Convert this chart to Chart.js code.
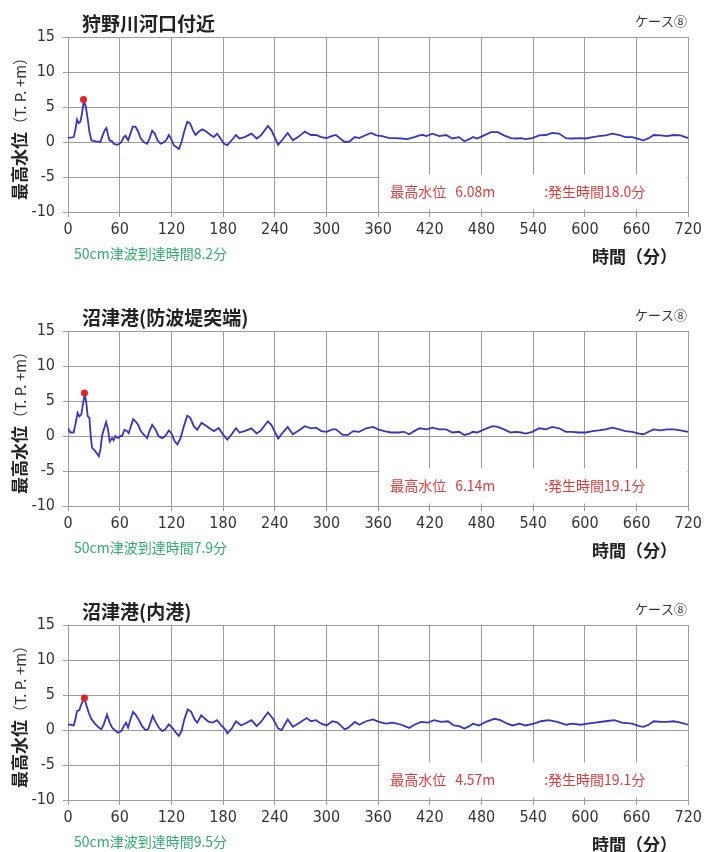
<!DOCTYPE html>
<html lang="ja">
<head>
<meta charset="utf-8">
<script src="https://cdn.jsdelivr.net/npm/chart.js@4.4.1/dist/chart.umd.min.js"></script>
<style>
  body { margin: 0; width: 705px; height: 852px; overflow: hidden; background: #fff; }
  .panel { position: absolute; left: 0; width: 705px; height: 294px; }
</style>
</head>
<body>
<div class="panel" style="top:0"><canvas id="c1" width="705" height="294"></canvas></div>
<div class="panel" style="top:294px"><canvas id="c2" width="705" height="294"></canvas></div>
<div class="panel" style="top:588px"><canvas id="c3" width="705" height="294"></canvas></div>
<script>
// 観測点
const stations = ["狩野川河口付近", "沼津港(防波堤突端)", "沼津港(内港)"];
const caseLabel = "ケース⑧";

// 最高水位と発生時間、50cm津波到達時間
const peakTime = [18.0, 19.1, 19.1];
const peakLevel = [6.08, 6.14, 4.57];
const arrivalTime = [8.2, 7.9, 9.5];

// 軸
const xTicks = [0, 60, 120, 180, 240, 300, 360, 420, 480, 540, 600, 660, 720];
const yTicks = [-10, -5, 0, 5, 10, 15];

// 水位の時系列 [時間(分), 水位(T.P.+m)]
const kanoSeries = [
  [0,0.6],[4.7,0.65],[6.6,0.7],[8.5,1.7],[10.5,3.2],[12.4,2.7],[14.3,2.9],[16.3,4.1],[18.5,5.9],[20.9,4.9],
  [23.3,2.9],[24.8,1.5],[27.1,0.25],[31.8,0.1],[37.6,0],[39.5,0.7],[42.6,1.7],[44.6,2.0],[46.5,1.0],[48.1,0.25],
  [51.2,0.1],[53.1,-0.25],[57,-0.4],[59.7,-0.25],[62,0],[64.7,0.7],[66.7,0.9],[69.8,0.25],[72.5,1.2],[75.2,2.2],
  [78.3,2.2],[81.4,1.5],[84.5,0.5],[88,0],[91.9,-0.25],[94.6,0.5],[97.7,1.6],[100.8,1.2],[103.9,0.25],[107.4,-0.25],
  [110.5,-0.1],[114,0.25],[117,1.0],[120,0.4],[123,-0.5],[125.6,-0.7],[128.7,-1.0],[131.8,0],[134.9,1.5],[138.4,2.9],
  [141.5,2.7],[145,1.7],[148,1.0],[152,1.5],[155.8,1.8],[160.5,1.5],[165.5,1.0],[169.4,0.7],[173,1.2],[177,0.5],
  [181,-0.25],[185,-0.45],[190,0.25],[195,1.0],[199,0.5],[205,0.7],[213,1.2],[219,0.5],[224,0.95],[232,2.3],
  [236,1.7],[244,-0.4],[250,0.5],[255,1.3],[261,0.25],[267,0.7],[275,1.5],[282,1.0],[288,1.0],[294,0.7],
  [300,0.55],[306,0.85],[311,1.0],[321,0],[327,0.1],[333,0.7],[338,0.55],[346,1.0],[352,1.3],[358,0.95],
  [365,0.85],[373,0.55],[379,0.55],[387,0.5],[394,0.4],[402,0.7],[408,0.95],[412,1.0],[416,0.85],[423,1.2],
  [431,0.85],[439,1.0],[446,0.5],[454,0.7],[460,0.1],[466,0.4],[470,0.7],[475,0.5],[483,0.95],[491,1.4],
  [499,1.4],[506,0.95],[514,0.55],[520,0.5],[526,0.55],[531,0.4],[539,0.55],[547,0.95],[555,1.0],[562,1.3],
  [570,1.2],[578,0.55],[585,0.5],[593,0.55],[601,0.5],[609,0.7],[616,0.85],[624,0.95],[632,1.2],[640,1.0],
  [647,0.7],[655,0.7],[663,0.4],[668,0.25],[674,0.55],[680,1.0],[688,0.95],[695,0.85],[703,1.0],[711,0.95],
  [720,0.55]
];

const bohaSeries = [
  [0,1.1],[2.7,0.5],[6.6,0.5],[9.3,2.1],[11.2,3.3],[13.2,2.8],[15.5,3.1],[17,4.3],[19.3,5.9],[21,5.0],
  [22.9,2.8],[24.8,2.6],[26.4,0],[27.9,-1.7],[29.8,-1.9],[31.8,-2.2],[33.7,-2.5],[35.7,-2.9],[37.6,-2.0],[39.5,0],
  [41.5,0.9],[44.2,2.0],[46.5,0.9],[48.4,-0.8],[51.2,-0.3],[53,-0.6],[55,0],[58,-0.3],[60.9,0],[62.8,0],
  [65.5,0.9],[68.6,0.7],[70.5,0.4],[73,1.4],[75.6,2.4],[78.3,2.1],[81.4,1.6],[84.5,0.7],[88,0.2],[91.9,-0.3],
  [94.6,0.7],[97.7,1.6],[101.6,0.9],[105,0],[109.3,-0.3],[113,0],[117,0.8],[120,0.4],[124,-0.8],[127,-1.2],
  [130.6,-0.3],[134.5,1.4],[138.4,2.9],[142,2.6],[146,1.4],[150,0.9],[155,1.9],[159.7,1.5],[165.5,1.0],[169.4,0.7],
  [175,1.15],[180,0.2],[185,-0.5],[190,0.25],[195,1.1],[199,0.5],[205,0.7],[213,1.1],[219,0.35],[224,0.8],
  [232,2.1],[236,1.6],[244,-0.35],[250,0.6],[255,1.3],[261,0.25],[267,0.7],[275,1.4],[282,1.1],[288,1.2],
  [294,0.7],[300,0.6],[307,0.95],[311,0.95],[319,0.15],[325,0.15],[331,0.7],[338,0.6],[346,1.1],[354,1.3],
  [360,0.95],[367,0.7],[375,0.5],[383,0.5],[390,0.6],[396,0.25],[402,0.7],[408,1.1],[416,0.95],[423,1.2],
  [431,0.95],[439,0.95],[446,0.5],[454,0.6],[460,0.15],[466,0.35],[470,0.6],[475,0.5],[483,0.95],[493,1.4],
  [499,1.3],[506,0.95],[514,0.5],[520,0.6],[526,0.5],[531,0.35],[539,0.6],[547,1.1],[555,0.95],[562,1.3],
  [570,1.1],[578,0.6],[585,0.6],[593,0.5],[601,0.5],[609,0.7],[616,0.8],[624,0.95],[632,1.2],[640,0.95],
  [647,0.7],[655,0.6],[663,0.35],[668,0.25],[674,0.6],[680,0.95],[688,0.8],[695,0.95],[703,0.95],[711,0.8],
  [720,0.6]
];

const naikoSeries = [
  [0,0.8],[6.6,0.65],[8.5,1.5],[10.5,2.7],[13.2,2.85],[14.7,3.4],[17,4.1],[19.1,4.4],[20.9,3.7],[24,2.5],
  [27,1.6],[31,0.95],[35.7,0.35],[38.8,0.1],[41.5,0.8],[45.3,2.2],[48.4,1.05],[51.2,0.35],[54,0],[58,-0.4],
  [62,-0.15],[64.7,0.55],[67.4,1.05],[69.8,0.35],[72.5,1.5],[75.6,2.6],[79,2.1],[82,1.5],[86,0.55],[90,0],
  [93,0.1],[95.7,1.05],[98.4,2.0],[101.6,1.15],[105.4,0.35],[109.3,-0.15],[113,0.1],[117,0.8],[121,0.35],[124.8,-0.3],
  [128.7,-0.85],[131.8,-0.15],[135,1.5],[139,2.95],[143,2.6],[147,1.5],[150,1.05],[154.7,2.1],[159,1.6],[163.6,1.15],
  [168,1.05],[173,1.4],[178,0.65],[183,0],[185,-0.5],[190,0.2],[195,1.25],[201,0.65],[205,0.9],[213,1.4],
  [219,0.55],[224,1.15],[232,2.5],[238,1.6],[244,0.2],[248,0],[255,1.5],[261,0.45],[267,0.9],[277,1.7],
  [282,1.25],[288,1.4],[294,0.9],[300,0.65],[307,1.25],[313,1.05],[321,0.1],[325,0.3],[333,1.15],[338,0.75],
  [346,1.25],[354,1.5],[361,1.15],[369,0.9],[377,1.05],[387,0.75],[396,0.3],[402,0.75],[410,1.15],[418,1.05],
  [425,1.4],[433,1.15],[441,1.25],[448,0.65],[454,0.55],[460,0.2],[466,0.55],[470,0.9],[477,0.65],[485,1.15],
  [495,1.6],[502,1.4],[510,0.9],[516,0.65],[524,0.9],[531,0.65],[541,0.9],[549,1.25],[558,1.4],[568,1.15],
  [578,0.75],[585,0.9],[595,0.75],[603,0.9],[612,1.05],[624,1.25],[634,1.4],[643,1.05],[655,0.9],[663,0.55],
  [668,0.45],[674,0.75],[680,1.25],[688,1.15],[695,1.15],[703,1.25],[711,1.05],[720,0.75]
];

const seriesList = [kanoSeries, bohaSeries, naikoSeries];

const JP = '"Noto Sans CJK JP", sans-serif';
const NUM = '"Liberation Sans Narrow", "DejaVu Sans Condensed", sans-serif';

// 文字の描画（タイトル、軸ラベル、注記）
const labelsPlugin = {
  id: "labels",
  beforeDatasetsDraw(chart, args, opts) {
    const { ctx, chartArea } = chart;
    const xs = chart.scales.x, ys = chart.scales.y;
    // 右下の注記ボックス（グリッドを隠す）
    const bx = xs.getPixelForValue(360) + 1.5;
    const by = ys.getPixelForValue(-5) - 2.5;
    ctx.save();
    ctx.fillStyle = "#fff";
    ctx.fillRect(bx, by, chartArea.right - 1 - bx, ys.getPixelForValue(-10) - 2.5 - by);
    ctx.fillStyle = "#e23a3a";
    ctx.font = "14px " + JP;
    ctx.textBaseline = "middle";
    ctx.textAlign = "left";
    const ty = ys.getPixelForValue(-7.1);
    ctx.fillText("最高水位", xs.getPixelForValue(360) + 12, ty);
    ctx.fillText(opts.peakLevel.toFixed(2) + "m", xs.getPixelForValue(360) + 77, ty);
    ctx.fillText(":発生時間" + opts.peakTime.toFixed(1) + "分", xs.getPixelForValue(540) + 11, ty);
    ctx.restore();
  },
  afterDraw(chart, args, opts) {
    const { ctx, chartArea } = chart;
    ctx.save();
    ctx.textBaseline = "middle";
    // タイトル
    ctx.fillStyle = "#222";
    ctx.font = "bold 19px " + JP;
    ctx.textAlign = "left";
    ctx.fillText(opts.title, 82, 24);
    // ケース
    ctx.font = "13px " + JP;
    ctx.fillStyle = "#333";
    ctx.textAlign = "right";
    ctx.fillText(caseLabel, 687, 21);
    // 横軸タイトル
    ctx.font = "bold 17px " + JP;
    ctx.fillStyle = "#222";
    ctx.fillText("時間（分）", 677, chartArea.bottom + 45);
    // 50cm到達時間
    ctx.font = "14px " + JP;
    ctx.fillStyle = "#2fae6e";
    ctx.textAlign = "left";
    ctx.fillText("50cm津波到達時間" + opts.arrival.toFixed(1) + "分", chartArea.left + 6, chartArea.bottom + 42);
    // 縦軸タイトル
    ctx.translate(20, 200);
    ctx.rotate(-Math.PI / 2);
    ctx.fillStyle = "#222";
    ctx.font = "bold 17px " + JP;
    ctx.fillText("最高水位", 0, 0);
    const w = ctx.measureText("最高水位").width;
    ctx.font = "15px " + JP;
    ctx.fillStyle = "#333";
    ctx.fillText("（T. P. +m）", w, 0);
    ctx.restore();
  }
};

function makeChart(id, i) {
  const ctx = document.getElementById(id).getContext("2d");
  return new Chart(ctx, {
    type: "line",
    data: {
      datasets: [
        {
          data: seriesList[i].map(p => ({ x: p[0], y: p[1] })),
          borderColor: "#3535c2",
          borderWidth: 1.8,
          pointRadius: 0,
          tension: 0,
          order: 2
        },
        {
          data: [{ x: peakTime[i], y: peakLevel[i] }],
          showLine: false,
          pointRadius: 3.5,
          pointBackgroundColor: "#e82020",
          pointBorderWidth: 0,
          order: 1
        }
      ]
    },
    options: {
      responsive: false,
      animation: false,
      devicePixelRatio: 1,
      layout: { padding: { top: 37, right: 16, left: 0, bottom: 0 } },
      plugins: {
        legend: { display: false },
        tooltip: { enabled: false },
        labels: {
          title: stations[i],
          peakTime: peakTime[i],
          peakLevel: peakLevel[i],
          arrival: arrivalTime[i]
        }
      },
      scales: {
        x: {
          type: "linear",
          min: xTicks[0],
          max: xTicks[xTicks.length - 1],
          afterBuildTicks: s => { s.ticks = xTicks.map(v => ({ value: v })); },
          afterFit: s => { s.height = 82; },
          grid: { color: "#9c9c9c", tickLength: 5 },
          border: { color: "#9c9c9c" },
          ticks: { font: { family: NUM, size: 16 }, color: "#333", padding: 3, maxRotation: 0 }
        },
        y: {
          min: yTicks[0],
          max: yTicks[yTicks.length - 1],
          afterBuildTicks: s => { s.ticks = yTicks.map(v => ({ value: v })); },
          afterFit: s => { s.width = 68; },
          grid: { color: "#9c9c9c", tickLength: 5 },
          border: { color: "#9c9c9c" },
          ticks: { font: { family: NUM, size: 16 }, color: "#333", padding: 8 }
        }
      }
    },
    plugins: [labelsPlugin]
  });
}

makeChart("c1", 0);
makeChart("c2", 1);
makeChart("c3", 2);
</script>
</body>
</html>
